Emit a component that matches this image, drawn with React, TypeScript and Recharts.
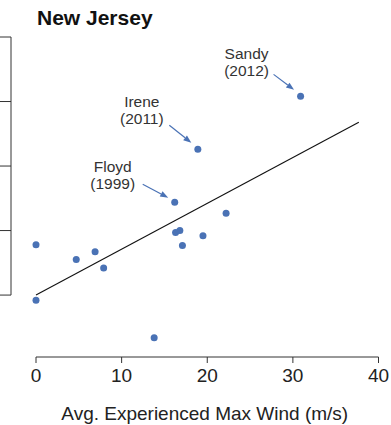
import {
  ReferenceDot,
  ReferenceLine,
  Scatter,
  ScatterChart,
  XAxis,
  YAxis,
} from "recharts";

// storm observations
const windSpeed = [0, 4.7, 6.9, 7.9, 0, 13.8, 16.2, 16.3, 16.8, 17.1, 18.9, 22.2, 19.5, 30.9];
const impact = [0.78, 0.55, 0.67, 0.42, -0.08, -0.66, 1.44, 0.97, 1.0, 0.77, 2.26, 1.27, 0.92, 3.08];

// fitted trend line end points
const fitX = [0, 37.7];
const fitY = [0, 2.68];

const xTicks = [0, 10, 20, 30, 40];
const yTicks = [0, 1, 2, 3, 4];

const stormNames = ["Sandy", "Irene", "Floyd"];
const stormYears = ["(2012)", "(2011)", "(1999)"];
const stormIndex = [13, 10, 6];

const points = windSpeed.map((x, i) => ({ x, y: impact[i] }));

const BLUE = "#4a72b5";
const FONT = "'Liberation Sans', Arial, Helvetica, sans-serif";

// label / arrow placement relative to the dot, in px
const calloutLayout = [
  { dx: -54, dy: -37, from: [-27, -22], to: [-6.5, -6.5] },
  { dx: -56, dy: -42, from: [-28.5, -24], to: [-6.5, -6.5] },
  { dx: -62, dy: -30, from: [-32, -18], to: [-6.5, -4.5] },
];

const Callout = ({ cx, cy, idx }: any) => {
  const l = calloutLayout[idx];
  const x1 = cx + l.from[0];
  const y1 = cy + l.from[1];
  const x2 = cx + l.to[0];
  const y2 = cy + l.to[1];
  const ang = Math.atan2(y2 - y1, x2 - x1);
  const head = 8;
  const half = 3;
  const bx = x2 - head * Math.cos(ang);
  const by = y2 - head * Math.sin(ang);
  const px = -Math.sin(ang) * half;
  const py = Math.cos(ang) * half;
  const tx = cx + l.dx;
  return (
    <g>
      <text x={tx} y={cy + l.dy} textAnchor="middle" fontSize={15.5} fill="#333" fontFamily={FONT}>
        <tspan x={tx}>{stormNames[idx]}</tspan>
        <tspan x={tx} dy={17}>
          {stormYears[idx]}
        </tspan>
      </text>
      <line x1={x1} y1={y1} x2={bx} y2={by} stroke={BLUE} strokeWidth={1.2} />
      <polygon
        points={`${x2},${y2} ${bx + px},${by + py} ${bx - px},${by - py}`}
        fill={BLUE}
      />
    </g>
  );
};

const Dot = (props: any) => (
  <circle cx={props.cx} cy={props.cy} r={3.5} fill={BLUE} />
);

// y tick labels sit off the page in the original, only the marks show
const NoLabel = () => <g />;

const X_MIN = -2.92;
const Y_MIN = -0.96;

export default function App() {
  return (
    <div
      style={{
        position: "absolute",
        left: 0,
        top: 0,
        width: 391,
        height: 425,
        fontFamily: FONT,
        background: "#fff",
      }}
    >
      <div
        style={{
          position: "absolute",
          left: 37,
          top: 7,
          fontSize: 21,
          lineHeight: "21px",
          fontWeight: "bold",
          color: "#111",
        }}
      >
        New Jersey
      </div>
      <ScatterChart
        width={391}
        height={425}
        margin={{ top: 37, right: 12.5, bottom: 0, left: 0 }}
      >
        <XAxis
          type="number"
          dataKey="x"
          domain={[X_MIN, 40]}
          ticks={xTicks}
          allowDataOverflow
          axisLine={false}
          tickSize={6}
          tickMargin={6}
          tickLine={{ stroke: "#333" }}
          tick={{ fontSize: 19, fill: "#222" }}
          height={68}
          label={{
            value: "Avg. Experienced Max Wind (m/s)",
            position: "insideBottom",
            offset: 5,
            dx: 10,
            fontSize: 19,
            fill: "#222",
          }}
        />
        <YAxis
          type="number"
          dataKey="y"
          domain={[Y_MIN, 4]}
          ticks={yTicks}
          allowDataOverflow
          axisLine={false}
          tick={NoLabel}
          tickSize={11}
          tickLine={{ stroke: "#333" }}
          width={11}
        />
        <ReferenceLine
          segment={[
            { x: 0, y: Y_MIN },
            { x: 40, y: Y_MIN },
          ]}
          stroke="#333"
          ifOverflow="visible"
        />
        <ReferenceLine
          segment={[
            { x: X_MIN, y: 0 },
            { x: X_MIN, y: 4 },
          ]}
          stroke="#333"
          ifOverflow="visible"
        />
        <ReferenceLine
          segment={[
            { x: fitX[0], y: fitY[0] },
            { x: fitX[1], y: fitY[1] },
          ]}
          stroke="#111"
          strokeWidth={1.1}
        />
        <Scatter data={points} shape={Dot} isAnimationActive={false} />
        {stormIndex.map((si, i) => (
          <ReferenceDot
            key={stormNames[i]}
            x={windSpeed[si]}
            y={impact[si]}
            shape={(p: any) => <Callout cx={p.cx} cy={p.cy} idx={i} />}
          />
        ))}
      </ScatterChart>
    </div>
  );
}
